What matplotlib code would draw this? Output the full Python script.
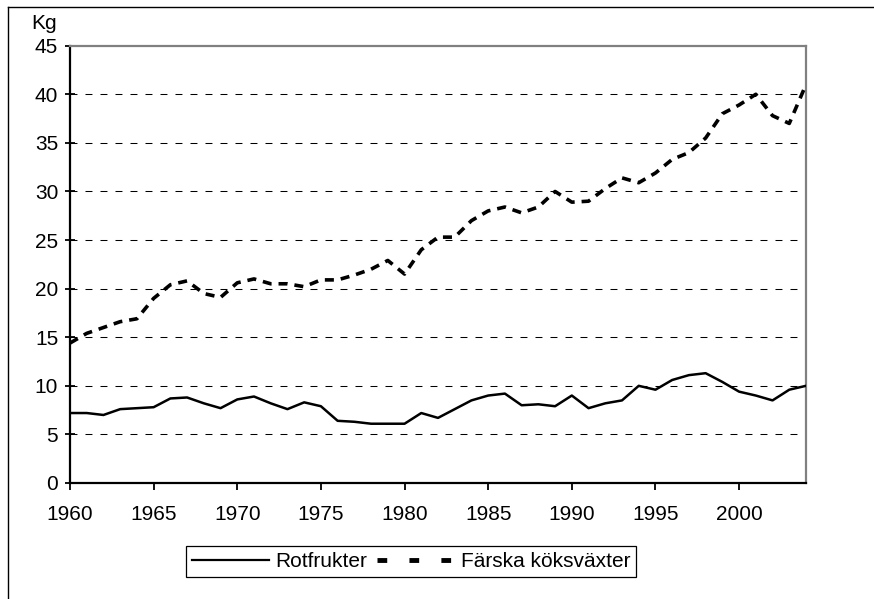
import matplotlib
matplotlib.use("Agg")
import matplotlib.pyplot as plt
from matplotlib.lines import Line2D

plt.rcParams['font.family'] = ['Liberation Sans', 'DejaVu Sans']
plt.rcParams['lines.scale_dashes'] = False

# data (kg per person och år)
years = list(range(1960, 2005))
rotfrukter = [7.2, 7.2, 7.0, 7.6, 7.7, 7.8, 8.7, 8.8, 8.2, 7.7,
              8.6, 8.9, 8.2, 7.6, 8.3, 7.9, 6.4, 6.3, 6.1, 6.1,
              6.1, 7.2, 6.7, 7.6, 8.5, 9.0, 9.2, 8.0, 8.1, 7.9,
              9.0, 7.7, 8.2, 8.5, 10.0, 9.6, 10.6, 11.1, 11.3, 10.4,
              9.4, 9.0, 8.5, 9.6, 10.0]
farska = [14.4, 15.4, 16.0, 16.6, 16.9, 19.0, 20.4, 20.8, 19.5, 19.1,
          20.6, 21.0, 20.5, 20.5, 20.2, 20.9, 20.9, 21.4, 22.0, 22.9,
          21.5, 24.0, 25.3, 25.3, 27.0, 28.0, 28.4, 27.8, 28.4, 30.0,
          28.9, 29.0, 30.3, 31.4, 30.9, 31.9, 33.3, 34.0, 35.5, 38.0,
          38.9, 40.0, 37.8, 37.0, 41.0]
xticks = list(range(1960, 2001, 5))
yticks = list(range(0, 46, 5))

fs = 15

fig = plt.figure(figsize=(8.74, 5.99), dpi=100)
ax = fig.add_axes([70/874, 1-483/599, 736/874, 437.3/599])

for y in yticks[1:-1]:
    ax.axhline(y, color='black', lw=0.75, dashes=(5, 5.8), zorder=1)

ax.plot(years, rotfrukter, color='black', lw=1.8, solid_joinstyle='round', zorder=3)
ax.plot(years, farska, color='black', lw=2.6, dashes=(6.5, 5), dash_capstyle='butt', zorder=3)

ax.set_xlim(1960, 2004)
ax.set_ylim(0, 45)
ax.set_xticks(xticks)
ax.set_yticks(yticks)
ax.tick_params(axis='x', direction='out', length=5, width=1.3, labelsize=fs, pad=11)
ax.tick_params(axis='y', direction='inout', length=7, width=1.3, labelsize=fs, pad=5)

for s in ['left', 'bottom']:
    ax.spines[s].set_color('black')
    ax.spines[s].set_linewidth(1.6)
for s in ['top', 'right']:
    ax.spines[s].set_color('#808080')
    ax.spines[s].set_linewidth(1.6)

fig.text(31/874, 1-29/599, 'Kg', fontsize=fs, va='baseline', ha='left')

# legend
h1 = Line2D([], [], color='black', lw=1.6)
h2 = Line2D([], [], color='black', lw=3.5, dashes=(7, 16), dash_capstyle='butt')
leg = fig.legend([h1, h2], ['Rotfrukter', 'Färska köksväxter'], ncol=2,
                 loc='center', bbox_to_anchor=(411/874, 1-561.5/599),
                 fontsize=fs, frameon=True, fancybox=False, framealpha=1,
                 edgecolor='black', handlelength=3.7, handletextpad=0.3,
                 columnspacing=0.5, borderpad=0.3, borderaxespad=0)
leg.get_frame().set_linewidth(0.9)

# outer chart border
fig.add_artist(Line2D([8/874, 8/874], [0, 1-7/599], color='black', lw=1, transform=fig.transFigure))
fig.add_artist(Line2D([8/874, 873/874], [1-7/599, 1-7/599], color='black', lw=1, transform=fig.transFigure))

fig.savefig('out.png', dpi=100)
